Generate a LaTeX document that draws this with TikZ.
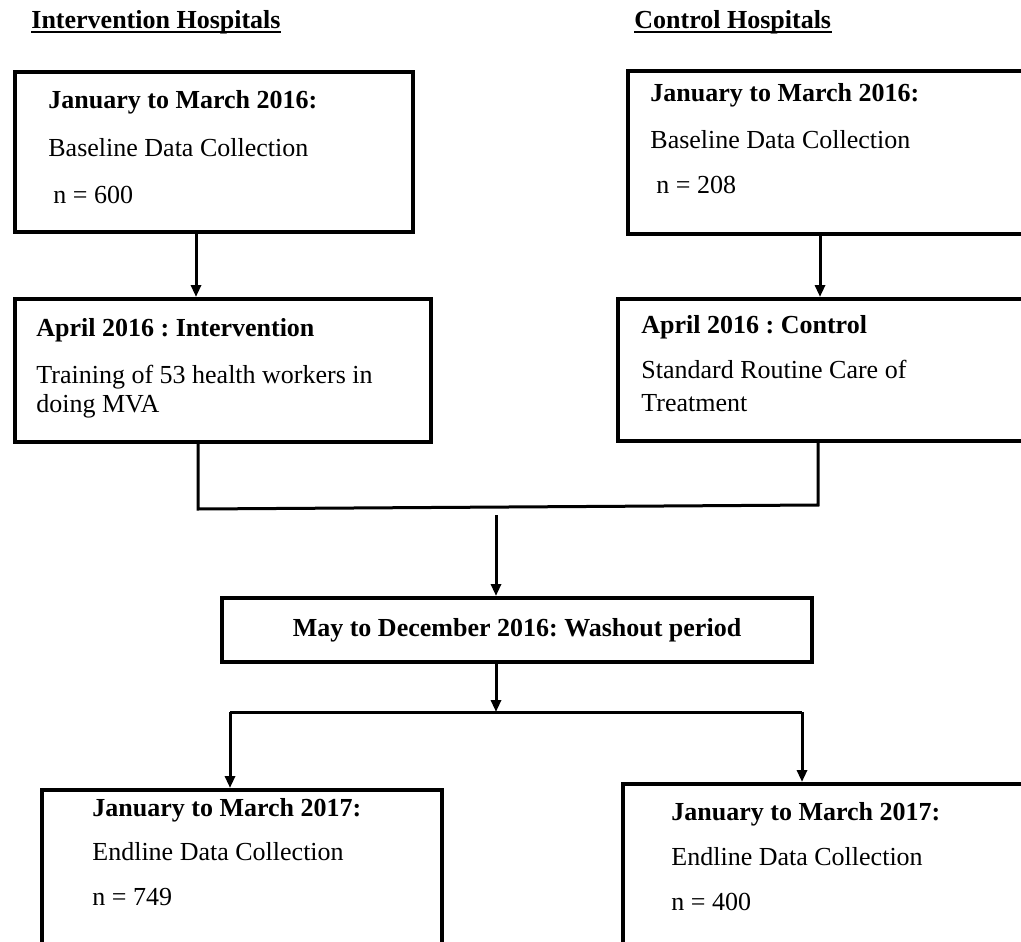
\documentclass[tikz,border=0pt]{standalone}
\usepackage{fontspec}
\setmainfont{Liberation Serif}
\usetikzlibrary{arrows.meta}
\frenchspacing

\begin{document}
\begin{tikzpicture}[x=0.5pt,y=-0.5pt,
  box/.style={draw,line width=2pt,anchor=north west,inner sep=0pt},
  txt/.style={anchor=base west,inner sep=0pt,font=\fontsize{13}{15}\selectfont},
  bold/.style={txt,font=\fontsize{13}{15}\selectfont\bfseries},
  conn/.style={line width=1.5pt},
  arr/.style={line width=1.5pt,-{Triangle[length=6pt,width=5pt]}}]
  \useasboundingbox (0,0) rectangle (1021,941);
  \clip (0,0) rectangle (1021,941);

  % column headings
  \node[bold] (ihead) at (31,29) {Intervention Hospitals};
  \node[bold] (chead) at (634,29) {Control Hospitals};
  \draw[line width=1pt] ([yshift=-1.6pt]ihead.base west) -- ([yshift=-1.6pt]ihead.base east);
  \draw[line width=1pt] ([yshift=-1.6pt]chead.base west) -- ([yshift=-1.6pt]chead.base east);

  % boxes
  \node[box,minimum width=199pt,minimum height=80pt] (ibase) at (13,70) {};
  \node[box,minimum width=225pt,minimum height=81.5pt] (cbase) at (626,69) {};
  \node[box,minimum width=208pt,minimum height=71.5pt] (iapr) at (13,297) {};
  \node[box,minimum width=225pt,minimum height=71pt] (capr) at (616,297) {};
  \node[box,minimum width=295pt,minimum height=32pt,anchor=center,
        font=\fontsize{13}{15}\selectfont\bfseries] (wash) at (517,630)
        {May to December 2016: Washout period};
  \node[box,minimum width=200pt,minimum height=100pt] (iend) at (40,788) {};
  \node[box,minimum width=225pt,minimum height=100pt] (cend) at (621,782) {};

  % texts in the boxes
  \node[bold] (ibase1) at (48,108.5) {January to March 2016:};
  \node[txt] (ibase2) at (48,156.5) {Baseline Data Collection};
  \node[txt] (ibase3) at (53,203.5) {n = 600};
  \node[bold] (cbase1) at (650,101.5) {January to March 2016:};
  \node[txt] (cbase2) at (650,148.5) {Baseline Data Collection};
  \node[txt] (cbase3) at (656,193.5) {n = 208};
  \node[bold] (iapr1) at (36,336.5) {April 2016 : Intervention};
  \node[txt] (iapr2) at (36,383.5) {Training of 53 health workers in};
  \node[txt] (iapr3) at (36,412.5) {doing MVA};
  \node[bold] (capr1) at (641,333.5) {April 2016 : Control};
  \node[txt] (capr2) at (641,378.5) {Standard Routine Care of};
  \node[txt] (capr3) at (641,411.5) {Treatment};
  \node[bold] (iend1) at (92,816.5) {January to March 2017:};
  \node[txt] (iend2) at (92,860.5) {Endline Data Collection};
  \node[txt] (iend3) at (92,905.5) {n = 749};
  \node[bold] (cend1) at (671,820.5) {January to March 2017:};
  \node[txt] (cend2) at (671,865.5) {Endline Data Collection};
  \node[txt] (cend3) at (671,910.5) {n = 400};

  % connectors
  \coordinate (ileft) at (196,0);
  \coordinate (cright) at (820,0);
  \coordinate (mleft) at (198,509);
  \coordinate (mright) at (818,505);
  \coordinate (mmid) at (496,515);
  \coordinate (smid) at (496,712);
  \coordinate (sleft) at (230,712);
  \coordinate (sright) at (802,712);
  \draw[arr] (ibase.south -| ileft) -- (iapr.north -| ileft);
  \draw[arr] (cbase.south -| cright) -- (capr.north -| cright);
  \draw[conn] (iapr.south -| mleft) -- (mleft) -- (mright) -- (capr.south -| mright);
  \draw[arr] (mmid) -- (wash.north -| mmid);
  \draw[arr] (wash.south -| smid) -- (smid);
  \draw[conn] (sleft) -- (sright);
  \draw[arr] (sleft) -- (iend.north -| sleft);
  \draw[arr] (sright) -- (cend.north -| sright);
\end{tikzpicture}
\end{document}
